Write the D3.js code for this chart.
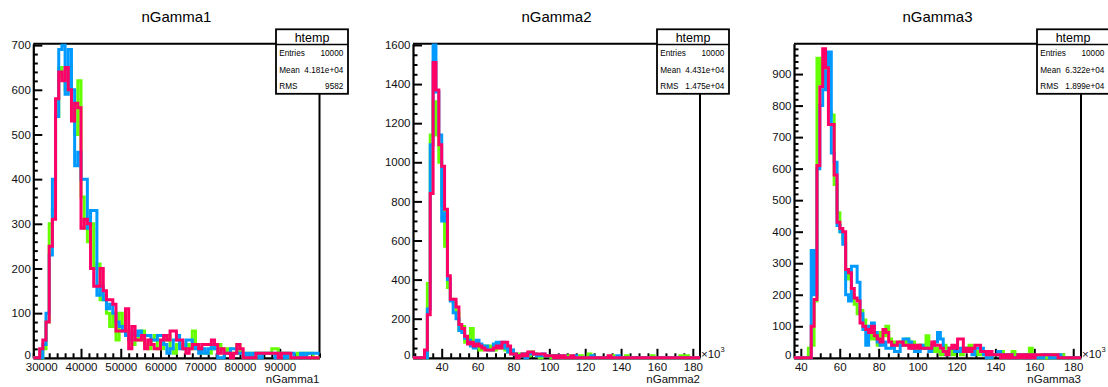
<!DOCTYPE html>
<html><head><meta charset="utf-8">
<script src="https://cdn.jsdelivr.net/npm/d3@7"></script>
<style>
html,body{margin:0;padding:0;background:#fff;}
svg{display:block;font-family:"Liberation Sans",Arial,Helvetica,sans-serif;}
</style></head><body>
<svg id="c" width="1108" height="387"></svg>
<script>
// ---------------- data ----------------
const titles = ["nGamma1", "nGamma2", "nGamma3"];
const xRange1 = [28000, 100000];
const xRange2 = [24000, 184000];
const xRange3 = [36500, 184000];
const yMax1 = 703, yMax2 = 1606, yMax3 = 996;

// series order: green, blue, pink (drawn in this order)
const green1 = [0,0,0,20,80,300,330,540,650,630,
  600,650,560,500,620,360,290,260,300,200,
  210,130,140,100,70,100,40,100,70,60,
  40,30,50,40,60,30,20,40,50,20,
  20,40,50,20,10,30,30,20,30,20,
  60,30,20,10,10,10,30,20,30,20,
  10,20,10,10,30,10,0,10,10,0,
  10,10,10,10,10,20,20,10,10,10,
  0,0,0,10,10,0,10,10,0,0];
const blue1 = [0,0,0,30,100,230,400,540,690,700,
  590,690,600,430,460,400,400,290,330,330,
  140,160,130,110,120,100,80,70,60,50,
  40,60,50,60,50,50,50,40,40,50,
  50,30,10,20,40,50,20,20,40,40,
  30,20,10,20,10,20,30,20,0,0,
  10,10,20,20,10,10,0,10,0,10,
  10,0,10,10,10,10,0,10,10,0,
  10,10,0,0,10,0,10,10,10,10];
const pink1 = [0,0,20,40,80,250,310,580,640,620,
  650,600,530,570,560,290,310,300,200,160,
  160,200,150,130,130,120,60,60,60,110,
  20,70,40,40,50,20,40,30,20,20,
  40,50,40,60,60,40,40,20,10,20,
  30,30,20,30,30,30,40,30,10,20,
  10,10,0,10,30,20,0,0,0,0,
  10,10,10,10,10,10,10,0,10,10,
  10,0,0,0,0,0,0,0,0,0];

const green2 = [0,0,0,0,0,380,1140,1310,1140,1000,
  780,570,360,300,280,230,140,160,80,90,
  150,80,60,40,60,50,60,40,40,60,
  50,70,40,30,30,20,10,20,10,20,
  10,30,20,10,0,10,10,10,0,10,
  10,0,0,0,10,0,0,0,10,0,
  0,20,0,0,0,0,0,0,0,10,
  0,0,0,0,10,0,0,0,0,0,
  0,0,0,10,0,0,0,0,0,0,
  0,0,0,10,0,10,0,0,0,0];
const blue2 = [0,0,0,0,0,250,1090,1600,1360,1140,
  700,740,400,290,230,200,140,130,100,90,
  60,50,90,70,60,60,40,40,70,80,
  60,80,50,30,40,20,10,10,20,0,
  20,20,20,10,10,20,10,10,10,0,
  10,0,10,0,0,0,10,0,0,0,
  0,0,10,0,0,0,0,0,0,0,
  0,10,0,0,0,0,0,0,0,0,
  0,0,0,0,0,0,0,0,0,0,
  0,0,0,0,0,0,0,0,0,0];
const pink2 = [0,0,0,0,40,220,840,1510,1370,1090,
  980,760,420,300,300,260,170,150,110,70,
  80,60,70,60,50,40,40,40,50,60,
  50,80,80,60,20,20,0,10,20,10,
  30,30,20,20,20,20,10,10,10,0,
  10,0,10,0,0,10,0,0,0,0,
  0,0,0,0,0,0,0,0,10,0,
  0,0,0,0,0,0,0,0,0,0,
  0,0,0,0,0,0,0,0,0,0,
  0,0,0,0,0,0,0,0,0,0];

const green3 = [0,0,0,0,0,30,40,180,950,870,
  940,880,780,770,550,460,400,380,250,270,
  200,170,140,150,120,90,90,60,70,40,
  80,70,100,60,50,40,40,50,40,60,
  40,50,40,30,40,30,70,40,20,30,
  20,10,40,30,30,10,20,20,10,30,
  30,40,20,20,10,10,20,10,0,10,
  10,10,20,0,10,10,20,10,0,0,
  10,10,30,10,0,0,10,0,0,0,
  10,0,0,10,0,0,0,0,0,0];
const blue3 = [0,0,0,0,0,0,340,200,600,800,
  850,910,970,650,620,420,400,360,200,180,
  290,290,240,140,90,40,100,110,80,50,
  40,50,30,30,40,20,20,40,60,60,
  50,30,20,20,40,30,30,20,40,50,
  80,60,20,10,30,30,20,20,30,30,
  20,20,10,30,30,30,10,0,0,10,
  10,20,10,0,10,10,0,0,10,0,
  10,0,0,10,0,0,0,10,10,0,
  0,0,10,0,0,0,0,0,0,0];
const pink3 = [0,0,0,0,0,0,100,185,610,860,
  980,920,740,740,580,430,410,400,280,270,
  220,190,180,110,100,90,80,100,70,60,
  50,90,80,50,40,40,50,50,40,40,
  30,40,30,40,30,30,30,30,50,40,
  40,30,20,10,30,40,30,60,60,20,
  30,20,30,40,40,20,20,10,20,10,
  10,10,0,10,0,10,0,0,10,0,
  10,0,10,0,10,10,10,10,10,10,
  10,10,0,0,0,0,0,0,0,0];

const yTicks1 = [0,100,200,300,400,500,600,700];
const yTicks2 = [0,200,400,600,800,1000,1200,1400,1600];
const yTicks3 = [0,100,200,300,400,500,600,700,800,900];
const xTicks1 = [30000,40000,50000,60000,70000,80000,90000];
const xTicks2 = [40000,60000,80000,100000,120000,140000,160000,180000];
const xTicks3 = [40000,60000,80000,100000,120000,140000,160000,180000];

const statNames = ["Entries", "Mean", "RMS"];
const stats1 = ["10000", "4.181e+04", "9582"];
const stats2 = ["10000", "4.431e+04", "1.475e+04"];
const stats3 = ["10000", "6.322e+04", "1.899e+04"];

// ---------------- layout / style ----------------
const seriesColors = ["#66ff00", "#0099ff", "#ff0066"];
const frameTop = 43.8, frameBottom = 357.8;
const panels = [
  {title: titles[0], xr: xRange1, ym: yMax1, series: [green1, blue1, pink1], yt: yTicks1, yMinorStep: 20,
   xt: xTicks1, xMinorStep: 2000, fmt: d => String(d), exp: false, stats: stats1, left: 33.3, right: 319.5, boxX: 276},
  {title: titles[1], xr: xRange2, ym: yMax2, series: [green2, blue2, pink2], yt: yTicks2, yMinorStep: 50,
   xt: xTicks2, xMinorStep: 5000, fmt: d => String(d / 1000), exp: true, stats: stats2, left: 413, right: 700, boxX: 657},
  {title: titles[2], xr: xRange3, ym: yMax3, series: [green3, blue3, pink3], yt: yTicks3, yMinorStep: 20,
   xt: xTicks3, xMinorStep: 5000, fmt: d => String(d / 1000), exp: true, stats: stats3, left: 794, right: 1081, boxX: 1037}
];

const svg = d3.select("#c");
const FONT = "'Liberation Sans', Arial, Helvetica, sans-serif";

panels.forEach(p => {
  const g = svg.append("g");
  const x = d3.scaleLinear().domain(p.xr).range([p.left, p.right]);
  const y = d3.scaleLinear().domain([0, p.ym]).range([frameBottom, frameTop]);

  // title
  g.append("text").attr("x", (p.left + p.right) / 2).attr("y", 22)
    .attr("text-anchor", "middle").attr("font-size", 15).attr("font-family", FONT)
    .attr("fill", "#000").text(p.title);

  // frame top & right
  g.append("path")
    .attr("d", `M${p.left},${frameTop}H${p.right}V${frameBottom}`)
    .attr("fill", "none").attr("stroke", "#000").attr("stroke-width", 2);

  // minor ticks
  const yMinor = d3.range(0, p.ym + 0.001, p.yMinorStep).filter(v => !p.yt.includes(v));
  const gyMin = g.append("g").attr("transform", `translate(${p.left},0)`)
    .call(d3.axisLeft(y).tickValues(yMinor).tickSizeInner(-4.5).tickSizeOuter(0).tickFormat(""));
  gyMin.select(".domain").remove();
  const xStart = Math.ceil(p.xr[0] / p.xMinorStep) * p.xMinorStep;
  const xMinor = d3.range(xStart, p.xr[1] + 0.001, p.xMinorStep).filter(v => !p.xt.includes(v));
  const gxMin = g.append("g").attr("transform", `translate(0,${frameBottom})`)
    .call(d3.axisBottom(x).tickValues(xMinor).tickSizeInner(-4.5).tickSizeOuter(0).tickFormat(""));
  gxMin.select(".domain").remove();

  // major axes
  const gy = g.append("g").attr("transform", `translate(${p.left},0)`)
    .call(d3.axisLeft(y).tickValues(p.yt).tickFormat(d => String(d)).tickSizeInner(-9).tickSizeOuter(0).tickPadding(2.5));
  const gx = g.append("g").attr("transform", `translate(0,${frameBottom})`)
    .call(d3.axisBottom(x).tickValues(p.xt).tickFormat(p.fmt).tickSizeInner(-9).tickSizeOuter(0).tickPadding(5));
  [gy, gx, gyMin, gxMin].forEach(a => {
    a.attr("font-family", FONT).attr("font-size", 11.5);
    a.selectAll(".tick line").attr("stroke", "#000").attr("stroke-width", 2);
    a.selectAll(".domain").attr("stroke", "#000").attr("stroke-width", 2.2);
    a.selectAll("text").attr("fill", "#111");
  });
  // the "0" label sits just above the x labels
  gy.selectAll(".tick text").filter(d => d === 0).attr("dy", "0.1em");

  // histograms
  const line = d3.line().x(d => x(d[0])).y(d => y(d[1]));
  p.series.forEach((vals, si) => {
    const n = vals.length;
    const bw = (p.xr[1] - p.xr[0]) / n;
    const pts = [[p.xr[0], 0]];
    vals.forEach((v, i) => {
      pts.push([p.xr[0] + i * bw, v]);
      pts.push([p.xr[0] + (i + 1) * bw, v]);
    });
    g.append("path").attr("d", line(pts))
      .attr("fill", "none").attr("stroke", seriesColors[si])
      .attr("stroke-width", 3).attr("stroke-linejoin", "miter");
  });

  // x axis title
  g.append("text").attr("x", p.right).attr("y", 383)
    .attr("text-anchor", "end").attr("font-size", 11.5).attr("font-family", FONT)
    .attr("fill", "#111").text(p.title);

  // x10^3
  if (p.exp) {
    const t = g.append("text").attr("x", p.right + 1).attr("y", 358)
      .attr("font-size", 11.5).attr("font-family", FONT).attr("fill", "#111");
    t.append("tspan").text("\u00d710");
    t.append("tspan").attr("font-size", 7.5).attr("dy", -6).text("3");
  }

  // stats box
  const bx = p.boxX, by = 29.3, bw = 72, bh = 64.5;
  g.append("rect").attr("x", bx).attr("y", by).attr("width", bw).attr("height", bh)
    .attr("fill", "#fff").attr("stroke", "#000").attr("stroke-width", 1.8);
  g.append("line").attr("x1", bx).attr("x2", bx + bw).attr("y1", 44.5).attr("y2", 44.5)
    .attr("stroke", "#000").attr("stroke-width", 1.3);
  g.append("text").attr("x", bx + bw / 2).attr("y", 41.5).attr("text-anchor", "middle")
    .attr("font-size", 12.5).attr("font-family", FONT).attr("fill", "#000").text("htemp");
  statNames.forEach((nm, i) => {
    const yy = 56 + i * 16.5;
    g.append("text").attr("x", bx + 3.3).attr("y", yy).attr("font-size", 8.2)
      .attr("font-family", FONT).attr("fill", "#000").text(nm);
    g.append("text").attr("x", bx + bw - 4.7).attr("y", yy).attr("text-anchor", "end")
      .attr("font-size", 8.2).attr("font-family", FONT).attr("fill", "#000").text(p.stats[i]);
  });
});
</script>
</body></html>
